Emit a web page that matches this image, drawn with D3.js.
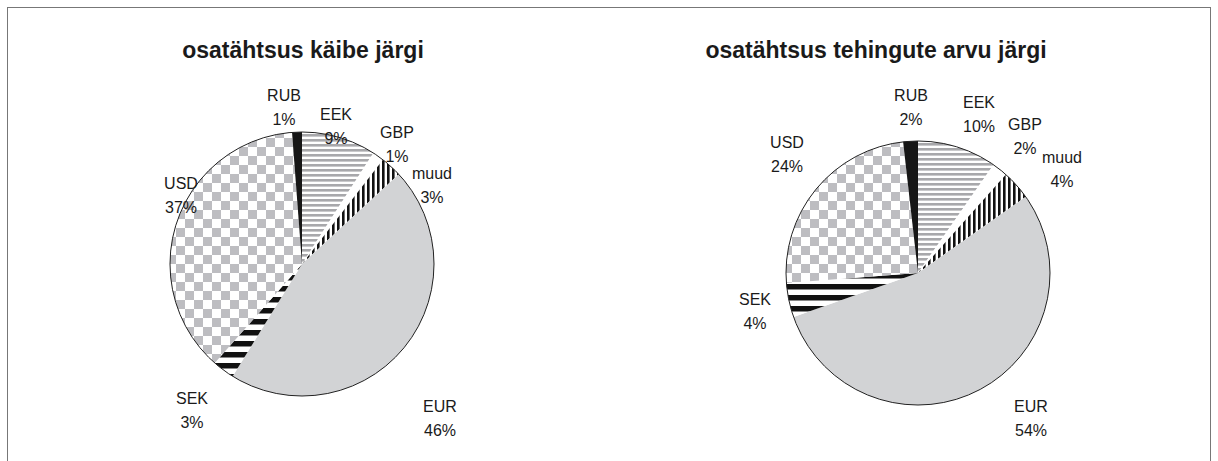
<!DOCTYPE html>
<meta charset="utf-8">
<html>
<head>
<script src="https://cdn.jsdelivr.net/npm/d3@7"></script>
<style>
body { margin:0; background:#fff; }
text { font-family:"Liberation Sans", Arial, sans-serif; fill:#1a1a1a; }
.title { font-size:23px; font-weight:bold; }
.lbl { font-size:16px; }
</style>
</head>
<body>
<div id="my_dataviz"></div>
<script>

// categories in the order they run clockwise from 12 o'clock
var categories = ["EEK", "GBP", "muud", "EUR", "SEK", "USD", "RUB"];

// shares, percent
var turnoverShare = [9.1, 1.4, 2.6, 45.7, 2.7, 37.3, 1.2];
var countShare    = [9.7, 1.9, 3.6, 54.4, 4.2, 24.4, 1.8];

var titles = ["osatähtsus käibe järgi", "osatähtsus tehingute arvu järgi"];

var width = 1218, height = 461;

var svg = d3.select("#my_dataviz")
  .append("svg")
  .attr("width", width)
  .attr("height", height);

// patterns like the old excel fills
var defs = svg.append("defs");

var p = defs.append("pattern").attr("id", "pEEK")
  .attr("patternUnits", "userSpaceOnUse").attr("width", 5).attr("height", 5);
p.append("rect").attr("width", 5).attr("height", 5).attr("fill", "#fff");
p.append("rect").attr("width", 5).attr("height", 2.6).attr("fill", "#a8a8ab");

p = defs.append("pattern").attr("id", "pMuud")
  .attr("patternUnits", "userSpaceOnUse").attr("width", 5).attr("height", 5);
p.append("rect").attr("width", 5).attr("height", 5).attr("fill", "#fff");
p.append("rect").attr("width", 2.6).attr("height", 5).attr("fill", "#111");

p = defs.append("pattern").attr("id", "pSEK")
  .attr("patternUnits", "userSpaceOnUse").attr("width", 11).attr("height", 11);
p.append("rect").attr("width", 11).attr("height", 11).attr("fill", "#fff");
p.append("rect").attr("width", 11).attr("height", 5.5).attr("fill", "#111");

p = defs.append("pattern").attr("id", "pUSD")
  .attr("patternUnits", "userSpaceOnUse").attr("width", 18).attr("height", 18);
p.append("rect").attr("width", 18).attr("height", 18).attr("fill", "#fff");
p.append("rect").attr("width", 9).attr("height", 9).attr("fill", "#bdbdc1");
p.append("rect").attr("x", 9).attr("y", 9).attr("width", 9).attr("height", 9).attr("fill", "#bdbdc1");

var fills = d3.scaleOrdinal()
  .domain(categories)
  .range(["url(#pEEK)", "#fff", "url(#pMuud)", "#d2d3d5", "url(#pSEK)", "url(#pUSD)", "#161616"]);

// outer frame
svg.append("rect")
  .attr("x", 7.5).attr("y", 7.5)
  .attr("width", 1203).attr("height", 470)
  .attr("fill", "none").attr("stroke", "#777");

// chart layout: pie centre, title centre, label block centres
var layouts = [
  { cx: 302, cy: 264, r: 132, tx: 303,
    labels: { RUB:[284,107], EEK:[336,126], GBP:[397,144], muud:[432,185],
              EUR:[440,418], SEK:[192,410], USD:[181,195] } },
  { cx: 918, cy: 273, r: 132, tx: 876,
    labels: { RUB:[911,107], EEK:[979,114], GBP:[1025,136], muud:[1062,169],
              EUR:[1031,418], SEK:[755,311], USD:[787,154] } }
];

var pct = d3.format(".0f");
var lineH = 24;

function drawPie(values, lay, title) {
  var data = categories.map(function(c, i) { return { name: c, value: values[i] }; });
  var pie = d3.pie().sort(null).value(function(d) { return d.value; });
  var arc = d3.arc().innerRadius(0).outerRadius(lay.r);

  var g = svg.append("g").attr("transform", "translate(" + lay.cx + "," + lay.cy + ")");

  g.selectAll("path")
    .data(pie(data))
    .enter()
    .append("path")
    .attr("d", arc)
    .attr("fill", function(d) { return fills(d.data.name); });

  // outline
  g.append("circle").attr("r", lay.r)
    .attr("fill", "none").attr("stroke", "#222").attr("stroke-width", 1);

  svg.append("text")
    .attr("class", "title")
    .attr("x", lay.tx).attr("y", 58)
    .attr("text-anchor", "middle")
    .text(title);

  var lbl = svg.selectAll(null)
    .data(data)
    .enter()
    .append("text")
    .attr("class", "lbl")
    .attr("text-anchor", "middle");
  lbl.append("tspan")
    .attr("x", function(d) { return lay.labels[d.name][0]; })
    .attr("y", function(d) { return lay.labels[d.name][1] - lineH / 2 + 6; })
    .text(function(d) { return d.name; });
  lbl.append("tspan")
    .attr("x", function(d) { return lay.labels[d.name][0]; })
    .attr("y", function(d) { return lay.labels[d.name][1] + lineH / 2 + 6; })
    .text(function(d) { return pct(d.value) + "%"; });
}

drawPie(turnoverShare, layouts[0], titles[0]);
drawPie(countShare, layouts[1], titles[1]);

</script>
</body>
</html>
